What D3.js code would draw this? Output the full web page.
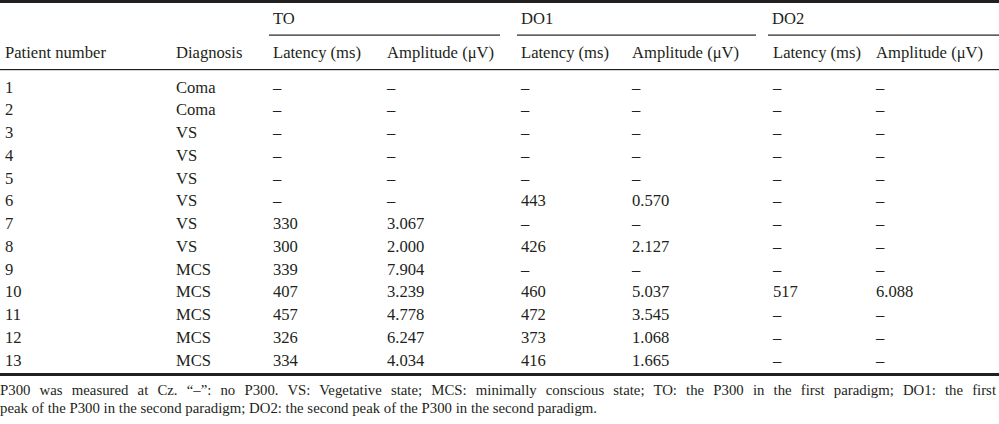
<!DOCTYPE html>
<html><head><meta charset="utf-8">
<script src="https://cdn.jsdelivr.net/npm/d3@7"></script>
<style>body{margin:0;background:#fff;}svg{display:block;}text{font-family:"Liberation Serif","DejaVu Serif",serif;fill:#231f20;}</style>
</head><body>
<script>
const patients = ["1","2","3","4","5","6","7","8","9","10","11","12","13"];
const diagnosis = ["Coma","Coma","VS","VS","VS","VS","VS","VS","MCS","MCS","MCS","MCS","MCS"];
const toLatency = ["–","–","–","–","–","–","330","300","339","407","457","326","334"];
const toAmplitude = ["–","–","–","–","–","–","3.067","2.000","7.904","3.239","4.778","6.247","4.034"];
const do1Latency = ["–","–","–","–","–","443","–","426","–","460","472","373","416"];
const do1Amplitude = ["–","–","–","–","–","0.570","–","2.127","–","5.037","3.545","1.068","1.665"];
const do2Latency = ["–","–","–","–","–","–","–","–","–","517","–","–","–"];
const do2Amplitude = ["–","–","–","–","–","–","–","–","–","6.088","–","–","–"];
const groups = ["TO","DO1","DO2"];
const columns = ["Patient number","Diagnosis","Latency (ms)","Amplitude (μV)","Latency (ms)","Amplitude (μV)","Latency (ms)","Amplitude (μV)"];
const footnote = ["P300 was measured at Cz. “–”: no P300. VS: Vegetative state; MCS: minimally conscious state; TO: the P300 in the first paradigm; DO1: the first",
"peak of the P300 in the second paradigm; DO2: the second peak of the P300 in the second paradigm."];

const W=999,H=424;
const svg=d3.select("body").append("svg").attr("width",W).attr("height",H);
const colX=[5,176,273,387,521,632,773,876];
const groupSpan=[[269,500],[517,756],[768,999]];
const cols=[patients,diagnosis,toLatency,toAmplitude,do1Latency,do1Amplitude,do2Latency,do2Amplitude];
const y=d3.scalePoint().domain(patients).range([87,360]);
const fs=16.6;

// rules
svg.append("rect").attr("x",0).attr("y",0).attr("width",W).attr("height",3).attr("fill","#231f20");
svg.append("rect").attr("x",0).attr("y",373).attr("width",W).attr("height",3).attr("fill","#231f20");
svg.append("rect").attr("x",0).attr("y",69).attr("width",W).attr("height",1.2).attr("fill","#231f20");
groupSpan.forEach((g,i)=>{
  svg.append("rect").attr("x",g[0]).attr("y",34.5).attr("width",g[1]-g[0]).attr("height",1.2).attr("fill","#231f20");
  svg.append("text").attr("x",g[0]+4).attr("y",23.5).attr("font-size",fs).text(groups[i]);
});
svg.selectAll("text.h").data(columns).join("text").attr("class","h")
  .attr("x",(d,i)=>colX[i]).attr("y",58).attr("font-size",fs).text(d=>d);
cols.forEach((c,i)=>{
  svg.selectAll("text.c"+i).data(c).join("text").attr("class","c"+i)
    .attr("x",colX[i]).attr("y",(d,j)=>y(patients[j])+5.5).attr("font-size",fs).text(d=>d);
});
const ft=svg.selectAll("text.f").data(footnote).join("text").attr("class","f")
  .attr("x",0).attr("y",(d,i)=>395+i*18).attr("font-size",14.8).text(d=>d);
ft.filter((d,i)=>i===0).each(function(d){
  const len=this.getComputedTextLength();
  const spaces=(d.match(/ /g)||[]).length;
  d3.select(this).attr("word-spacing",(996-len)/spaces);
});
</script>
</body></html>
